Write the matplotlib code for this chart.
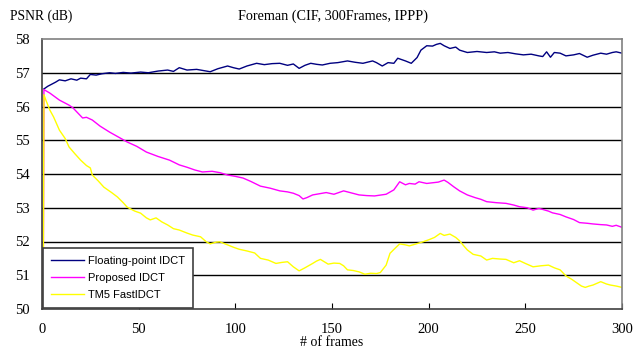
import matplotlib.pyplot as plt
import numpy as np

# Floating-point IDCT
fp_frames = [1, 3, 5, 7, 9, 12, 15, 18, 20, 23, 25, 28, 31, 35, 38, 42, 46, 51, 55, 60, 65, 68,
             71, 75, 80, 84, 87, 91, 96, 99, 102, 106, 111, 115, 119, 123, 127, 130, 133, 136,
             139, 142, 145, 149, 153, 158, 162, 166, 171, 173, 176, 179, 182, 184, 188, 191,
             194, 196, 199, 202, 204, 206, 208, 211, 214, 216, 220, 225, 230, 234, 237, 241,
             245, 249, 253, 257, 259, 261, 263, 265, 268, 271, 275, 278, 282, 285, 289, 292,
             295, 297, 300]
fp_psnr = [56.52, 56.6, 56.66, 56.72, 56.79, 56.76, 56.82, 56.78, 56.84, 56.82, 56.95, 56.93,
           56.97, 57.0, 56.98, 57.01, 56.99, 57.02, 57.0, 57.05, 57.08, 57.04, 57.15, 57.08,
           57.1, 57.06, 57.03, 57.12, 57.2, 57.15, 57.11, 57.2, 57.28, 57.24, 57.27, 57.28,
           57.22, 57.26, 57.13, 57.22, 57.28, 57.25, 57.23, 57.28, 57.3, 57.35, 57.31, 57.28,
           57.35, 57.3, 57.2, 57.3, 57.28, 57.43, 57.35, 57.28, 57.45, 57.67, 57.8, 57.79,
           57.84, 57.87, 57.8, 57.72, 57.76, 57.67, 57.6, 57.63, 57.6, 57.62, 57.58, 57.6,
           57.56, 57.53, 57.55, 57.5, 57.48, 57.62, 57.46, 57.6, 57.58, 57.5, 57.53, 57.57,
           57.46, 57.52, 57.58, 57.55, 57.6, 57.62, 57.58]

# Proposed IDCT
pr_frames = [0, 1, 4, 9, 14, 16, 19, 21, 23, 26, 30, 35, 40, 44, 49, 54, 60, 66, 71, 75, 79,
             83, 88, 92, 96, 100, 104, 108, 113, 118, 123, 127, 130, 133, 135, 137, 140, 144,
             147, 151, 156, 160, 164, 168, 172, 178, 182, 185, 188, 190, 193, 195, 199, 202,
             205, 208, 210, 213, 216, 220, 224, 227, 230, 235, 240, 244, 247, 251, 254, 257,
             259, 262, 264, 268, 271, 275, 278, 282, 285, 289, 292, 295, 297, 300]
pr_psnr = [40.0, 56.5, 56.4, 56.19, 56.04, 55.96, 55.78, 55.66, 55.68, 55.6, 55.42, 55.24,
           55.08, 54.95, 54.82, 54.65, 54.52, 54.41, 54.27, 54.2, 54.12, 54.06, 54.08, 54.04,
           53.97, 53.93, 53.88, 53.78, 53.64, 53.58, 53.5, 53.47, 53.43, 53.36, 53.26, 53.3,
           53.38, 53.42, 53.45, 53.4, 53.5, 53.44, 53.38, 53.36, 53.35, 53.4, 53.53, 53.77,
           53.68, 53.72, 53.7, 53.77, 53.72, 53.74, 53.76, 53.82, 53.75, 53.62, 53.5, 53.38,
           53.3, 53.25, 53.18, 53.15, 53.13, 53.08, 53.03, 53.0, 52.93, 52.98, 52.95, 52.9,
           52.85, 52.8, 52.73, 52.65, 52.56, 52.54, 52.52, 52.5, 52.49, 52.45, 52.48, 52.42]

# TM5 FastIDCT
tm_frames = [0, 1, 2, 4, 6, 9, 12, 14, 17, 20, 23, 25, 26, 29, 32, 36, 39, 42, 44, 48, 51, 54,
             56, 59, 62, 65, 68, 71, 75, 78, 82, 85, 87, 90, 92, 96, 99, 102, 106, 110, 113,
             117, 121, 124, 127, 130, 133, 136, 140, 142, 144, 146, 148, 151, 154, 156, 158,
             161, 164, 167, 170, 173, 175, 178, 180, 183, 185, 188, 190, 193, 197, 200, 203,
             206, 208, 211, 214, 216, 218, 220, 223, 227, 230, 233, 237, 240, 244, 247, 250,
             254, 258, 262, 265, 268, 271, 274, 277, 279, 281, 283, 285, 287, 289, 292, 294,
             297, 300]
tm_psnr = [40.0, 56.35, 56.19, 55.9, 55.69, 55.3, 55.05, 54.8, 54.6, 54.41, 54.25, 54.18,
           53.97, 53.8, 53.61, 53.45, 53.32, 53.15, 53.02, 52.9, 52.84, 52.7, 52.64, 52.7,
           52.58, 52.49, 52.38, 52.34, 52.25, 52.19, 52.14, 51.99, 51.93, 51.98, 51.99, 51.9,
           51.83, 51.77, 51.72, 51.66, 51.5, 51.45, 51.35, 51.38, 51.4, 51.25, 51.13, 51.22,
           51.35, 51.42, 51.47, 51.4, 51.33, 51.36, 51.35, 51.28, 51.16, 51.14, 51.1, 51.03,
           51.06, 51.05, 51.08, 51.3, 51.65, 51.82, 51.93, 51.9, 51.87, 51.92, 51.99, 52.05,
           52.12, 52.24, 52.18, 52.22, 52.12, 52.02, 51.88, 51.75, 51.62, 51.57, 51.45, 51.5,
           51.48, 51.47, 51.37, 51.43, 51.35, 51.25, 51.28, 51.3, 51.22, 51.16, 50.98, 50.88,
           50.76, 50.68, 50.64, 50.68, 50.71, 50.76, 50.81, 50.74, 50.71, 50.68, 50.64]

fig = plt.figure(figsize=(6.35, 3.5), dpi=100)
ax = fig.add_axes([42 / 635, 1 - 309 / 350, 580 / 635, 270 / 350])

ax.plot(fp_frames, fp_psnr, color='#000080', lw=1.0, label='Floating-point IDCT')
ax.plot(pr_frames, pr_psnr, color='#FF00FF', lw=1.0, label='Proposed IDCT')
ax.plot(tm_frames, tm_psnr, color='#FFFF00', lw=1.0, label='TM5 FastIDCT')

ax.set_xlim(0, 300)
ax.set_ylim(50, 58)
ax.set_xticks(np.arange(0, 301, 50))
ax.set_yticks(np.arange(50, 59, 1))
for v in range(51, 58):
    ax.axhline(v, color='black', lw=1.0, zorder=0)

serif = 'Liberation Serif'
for lab in ax.get_xticklabels() + ax.get_yticklabels():
    lab.set_family(serif)
    lab.set_fontsize(10.5)
ax.tick_params(axis='x', direction='in', length=4, pad=10, colors='black')
ax.tick_params(axis='y', direction='out', length=0, pad=9)

for side in ['top', 'right']:
    ax.spines[side].set_color('#808080')
for side in ['left', 'bottom']:
    ax.spines[side].set_color('#404040')
for s in ax.spines.values():
    s.set_linewidth(1.2)

leg = ax.legend(loc='lower left', fancybox=False, framealpha=1,
                edgecolor='#404040', prop={'family': 'Liberation Sans', 'size': 8},
                handlelength=3.0, handletextpad=0.35, labelspacing=0.65,
                borderpad=0.7, borderaxespad=0.1)
leg.get_frame().set_linewidth(1.2)

fig.text(333 / 635, 1 - 16 / 350, 'Foreman (CIF, 300Frames, IPPP)', family=serif,
         fontsize=10.2, ha='center', va='center')
fig.text(10 / 635, 1 - 16 / 350, 'PSNR (dB)', family=serif, fontsize=9.8,
         ha='left', va='center')
fig.text(332 / 635, 1 - 343 / 350, '# of frames', family=serif, fontsize=10,
         ha='center', va='center')

fig.savefig('out.png', dpi=100)
